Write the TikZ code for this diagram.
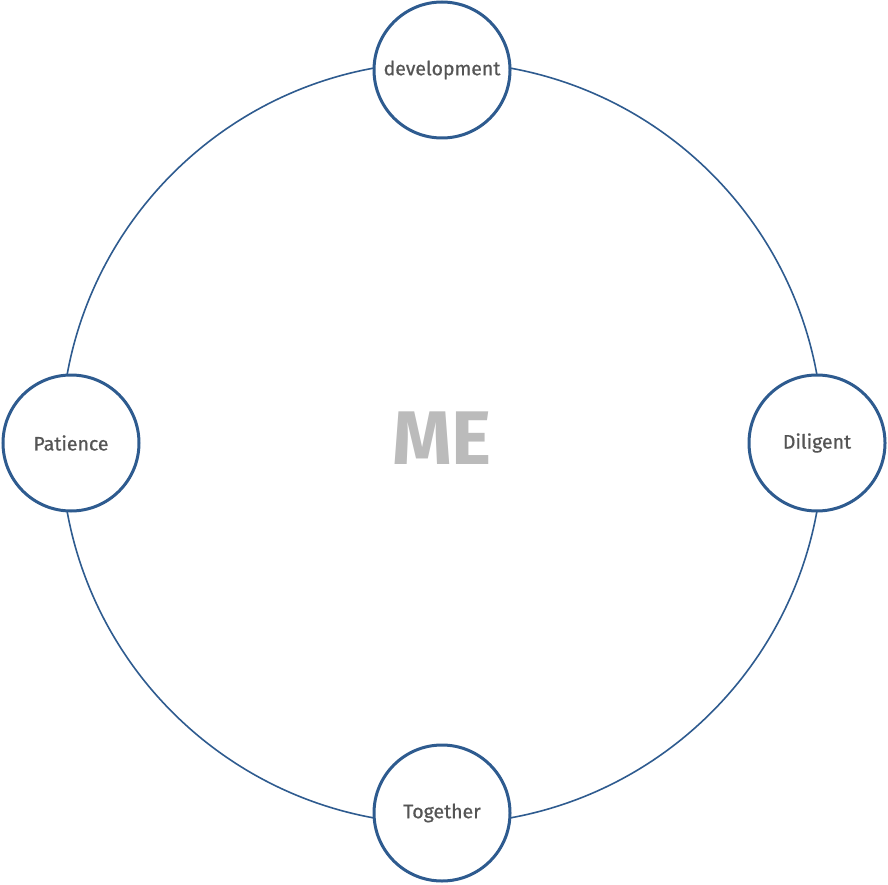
\documentclass[tikz,border=0pt]{standalone}
\usepackage{fontspec}
\setmainfont{Fira Sans}
\newfontfamily\lblfont{Fira Sans}[FakeBold=0.7]
\definecolor{ringblue}{HTML}{2E5B8F}
\definecolor{txtgray}{HTML}{555555}
\definecolor{megray}{HTML}{BBBBBB}
\begin{document}
\begin{tikzpicture}[x=1pt,y=-1pt,
  bubble/.style={circle,draw=ringblue,line width=3pt,fill=white,minimum size=136pt,inner sep=0pt,
    text=txtgray,font=\lblfont\fontsize{19.5}{22}\selectfont},
  ring/.style={draw=ringblue,line width=1.6pt}]
\useasboundingbox (0,0) rectangle (888,885);
\coordinate (c) at (442,443);
\draw[ring] (c) circle (381pt);
\node[bubble] (dev) at (442,70) {development};
\node[bubble] (dil) at (817,443) {Diligent};
\node[bubble] (tog) at (442,813) {Together};
\node[bubble] (pat) at (71,443) {Patience};
\node[text=megray,font=\bfseries\fontsize{76}{80}\selectfont] (me) at (442,438) {ME};
\end{tikzpicture}
\end{document}
